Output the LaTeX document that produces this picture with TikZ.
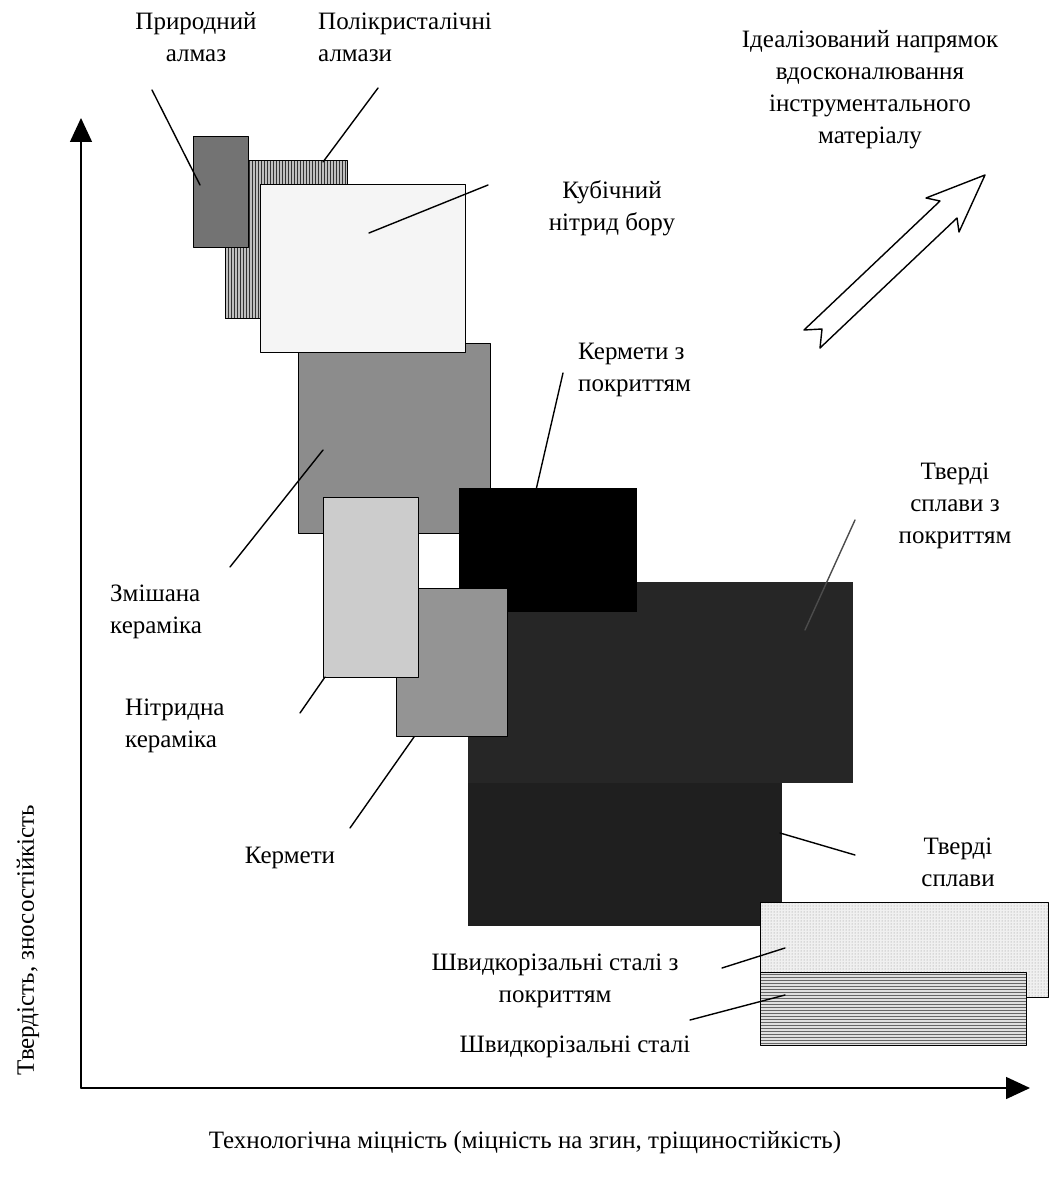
\documentclass[tikz,border=0pt]{standalone}
\usepackage{fontspec}
\setmainfont{Liberation Serif}
\usetikzlibrary{arrows.meta,patterns}
\begin{document}
\begin{tikzpicture}[x=1pt,y=-1pt,line join=round,line cap=round,
    font=\fontsize{25}{32}\selectfont,
    lbl/.style={align=center,inner sep=0pt},
    lbll/.style={align=left,inner sep=0pt,anchor=west},
    leader/.style={line width=1.4pt},
    slab/.style={draw=black,line width=1pt},
    axis/.style={line width=1.4pt,-{Triangle[length=24pt,width=22pt]}}]
  \useasboundingbox (0,0) rectangle (1050,1182);
  % corners of the material fields
  \path (193,137) coordinate (nd1) (248,247) coordinate (nd2)
    (225,161) coordinate (pd1) (347,318) coordinate (pd2)
    (260,185) coordinate (bn1) (465,352) coordinate (bn2)
    (298,343) coordinate (mc1) (490,533) coordinate (mc2)
    (323,497) coordinate (nc1) (418,677) coordinate (nc2)
    (459,488) coordinate (kc1) (637,612) coordinate (kc2)
    (468,582) coordinate (hc1) (853,783) coordinate (hc2)
    (396,588) coordinate (km1) (507,736) coordinate (km2)
    (468,760) coordinate (hm1) (782,926) coordinate (hm2)
    (760,902) coordinate (sc1) (1048,997) coordinate (sc2)
    (760,972) coordinate (ss1) (1026,1045) coordinate (ss2);
  \draw [slab,preaction={fill=black!25},pattern=vertical lines,pattern color=black!80] (pd1) rectangle (pd2);
  \draw [slab,fill=black!55] (nd1) rectangle (nd2);
  \draw [slab,fill=black!45] (mc1) rectangle (mc2);
  \draw [slab,fill=black!4] (bn1) rectangle (bn2);
  \fill [black!88] (hm1) rectangle (hm2);
  \fill [black!85] (hc1) rectangle (hc2);
  \fill [black] (kc1) rectangle (kc2);
  \draw [slab,fill=black!42] (km1) rectangle (km2);
  \draw [slab,fill=black!20] (nc1) rectangle (nc2);
  \draw [slab,preaction={fill=black!6},pattern=dots,pattern color=black!45] (sc1) rectangle (sc2);
  \draw [slab,preaction={fill=black!12},pattern=horizontal lines,pattern color=black!60] (ss1) rectangle (ss2);
  % axes
  \coordinate (o) at (81,1088);
  \coordinate (ytop) at (81,118);
  \coordinate (xend) at (1030,1088);
  \draw [axis] (o) -- (ytop);
  \draw [axis] (o) -- (xend);
  \node [rotate=90,inner sep=0pt] (ylab) at (28,940) {Твердість, зносостійкість};
  \node [lbl] (xlab) at (525,1142) {Технологічна міцність (міцність на згин, тріщиностійкість)};
  % direction arrow
  \path (985,175) coordinate (t0) (959,232) coordinate (t1) (957,218) coordinate (t2)
    (820,348) coordinate (t3) (822,329) coordinate (t4) (804,330) coordinate (t5)
    (940,201) coordinate (t6) (926,198) coordinate (t7);
  \draw [line width=1.4pt,fill=white] (t0)--(t1)--(t2)--(t3)--(t4)--(t5)--(t6)--(t7)--cycle;
  \node [lbl] (ideal) at (870,90) {Ідеалізований напрямок\\вдосконалювання\\інструментального\\матеріалу};
  % labels
  \node [lbl] (nat) at (196,37) {Природний\\алмаз};
  \node [lbll] (poly) at (318,37) {Полікристалічні\\алмази};
  \node [lbl] (cbn) at (612,208) {Кубічний\\нітрид бору};
  \node [lbll] (kcoat) at (578,370) {Кермети з\\покриттям};
  \node [lbl] (hcoat) at (955,506) {Тверді\\сплави з\\покриттям};
  \node [lbll] (mix) at (110,612) {Змішана\\кераміка};
  \node [lbll] (nitr) at (125,726) {Нітридна\\кераміка};
  \node [lbl] (kerm) at (290,858) {Кермети};
  \node [lbl] (hard) at (958,862) {Тверді\\сплави};
  \node [lbl] (scoat) at (555,981) {Швидкорізальні сталі з\\покриттям};
  \node [lbl] (hss) at (575,1047) {Швидкорізальні сталі};
  % leader lines
  \path (152,90) coordinate (a1) (200,185) coordinate (b1)
    (378,88) coordinate (a2) (323,162) coordinate (b2)
    (488,185) coordinate (a3) (369,233) coordinate (b3)
    (563,373) coordinate (a4) (536,490) coordinate (b4)
    (855,520) coordinate (a5) (805,630) coordinate (b5)
    (230,567) coordinate (a6) (323,450) coordinate (b6)
    (300,713) coordinate (a7) (325,677) coordinate (b7)
    (350,828) coordinate (a8) (414,737) coordinate (b8)
    (855,855) coordinate (a9) (780,833) coordinate (b9)
    (722,968) coordinate (a10) (785,948) coordinate (b10)
    (690,1020) coordinate (a11) (785,995) coordinate (b11);
  \foreach \i in {1,2,3,4,6,7,8,9,10,11}
    \draw [leader] (a\i) -- (b\i);
  \draw [leader,black!70] (a5) -- (b5);
\end{tikzpicture}
\end{document}
